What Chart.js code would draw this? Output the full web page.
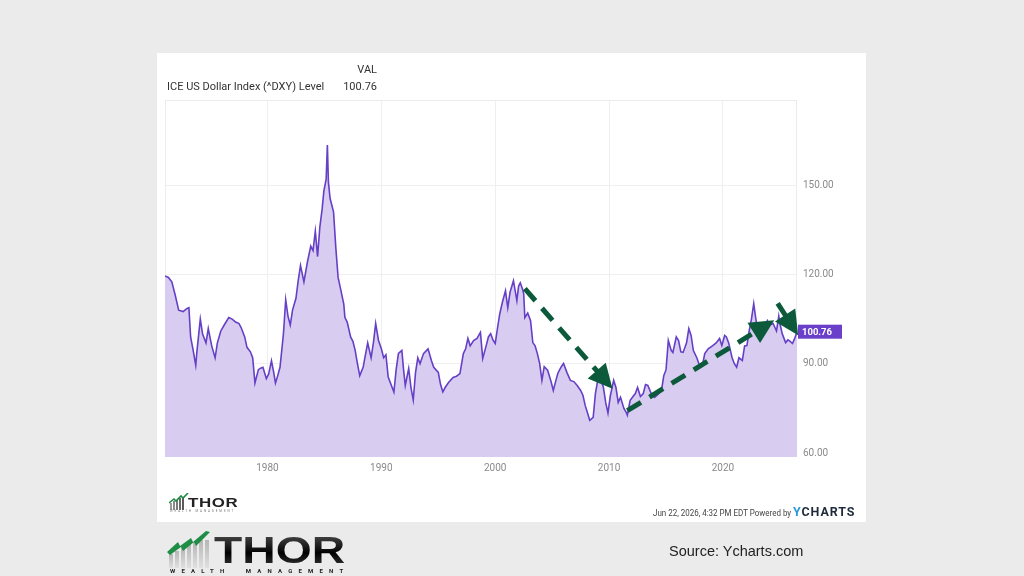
<!DOCTYPE html>
<html>
<head>
<meta charset="utf-8">
<script src="https://cdn.jsdelivr.net/npm/chart.js@4.4.1/dist/chart.umd.min.js"></script>
<style>
  html,body{margin:0;padding:0;}
  body{width:1024px;height:576px;background:#ebebeb;position:relative;overflow:hidden;font-family:Roboto,"Liberation Sans",sans-serif;}
  #panel{position:absolute;left:157px;top:53px;width:709px;height:469px;background:#fff;}
  #c{position:absolute;left:0;top:0;}
  .t{position:absolute;white-space:nowrap;color:#333;}
</style>
</head>
<body>
<div id="panel"></div>
<canvas id="c" width="1024" height="576"></canvas>

<div class="t" style="left:300px;top:63px;width:77px;text-align:right;font-size:11px;">VAL</div>
<div class="t" style="left:167px;top:80px;font-size:11px;">ICE US Dollar Index (^DXY) Level</div>
<div class="t" style="left:300px;top:80px;width:77px;text-align:right;font-size:11px;">100.76</div>

<!-- small footer logo -->
<svg style="position:absolute;left:169px;top:493px;" width="20" height="17" viewBox="0 0 20 17">
  <rect x="1" y="10" width="2" height="7" fill="#9a9a9a"/>
  <rect x="4" y="8" width="2" height="9" fill="#8a8a8a"/>
  <rect x="7" y="7" width="2" height="10" fill="#7a7a7a"/>
  <rect x="10" y="5" width="2" height="12" fill="#6a6a6a"/>
  <rect x="13" y="4" width="2" height="13" fill="#5a5a5a"/>
  <polyline points="0,10 5,6 7,8 12,3 14,5 19,0" fill="none" stroke="#1e8a45" stroke-width="1.6"/>
</svg>
<div class="t" style="left:188px;top:495px;font-size:13px;font-weight:900;color:#222;letter-spacing:0.5px;font-family:'Liberation Sans',sans-serif;transform:scaleX(1.3);transform-origin:left;">THOR</div>
<div class="t" style="left:170px;top:509px;font-size:3px;color:#777;letter-spacing:1.9px;">WEALTH MANAGEMENT</div>

<div class="t" style="left:653px;top:507px;font-size:9.5px;color:#444;transform:scaleX(0.84);transform-origin:left;">Jun 22, 2026, 4:32 PM EDT Powered by</div>
<div class="t" style="left:793px;top:504px;font-size:12.5px;font-weight:bold;color:#1f2b3d;letter-spacing:0.9px;"><span style="color:#2b9ad6;">Y</span>CHARTS</div>

<!-- big bottom logo -->
<svg style="position:absolute;left:166px;top:530px;" width="50" height="40" viewBox="0 0 50 40">
  <defs>
    <linearGradient id="g1" x1="0" y1="0" x2="0" y2="1">
      <stop offset="0" stop-color="#b5b5b5"/><stop offset="1" stop-color="#e0e0e0"/>
    </linearGradient>
  </defs>
  <rect x="3" y="24" width="4" height="14" fill="url(#g1)"/>
  <rect x="9" y="21" width="4" height="17" fill="url(#g1)"/>
  <rect x="15" y="18" width="4" height="20" fill="url(#g1)"/>
  <rect x="21" y="15" width="4" height="23" fill="url(#g1)"/>
  <rect x="27" y="12" width="4" height="26" fill="url(#g1)"/>
  <rect x="33" y="10" width="4" height="28" fill="url(#g1)"/>
  <rect x="39" y="10" width="4" height="28" fill="url(#g1)"/>
  <polygon points="1,22 12,12 14,16 25,8 27,12 40,1 44,2 30,16 28,12 17,21 15,17 4,25" fill="#1f8d46"/>
</svg>
<div class="t" style="left:214px;top:531px;font-size:37px;font-weight:900;font-family:'Liberation Sans',sans-serif;transform:scaleX(1.25);transform-origin:left;background:linear-gradient(#555,#111 45%,#000 55%,#444);-webkit-background-clip:text;background-clip:text;color:transparent;line-height:40px;">THOR</div>
<div class="t" style="left:170px;top:567px;font-size:6px;color:#222;letter-spacing:6.2px;font-weight:bold;">WEALTH&nbsp;&nbsp;MANAGEMENT</div>

<div class="t" style="left:669px;top:543px;font-size:14.5px;color:#222;font-family:'Liberation Sans',Arial,sans-serif;">Source: Ycharts.com</div>

<script>
// ---- data ----
const dates = [
1971.0,1971.3,1971.6,1971.9,1972.2,1972.6,1972.9,1973.1,1973.25,1973.45,1973.7,1973.8,
1974.1,1974.3,1974.6,1974.8,1975.1,1975.4,1975.6,1975.9,1976.2,1976.6,1976.9,1977.2,
1977.5,1977.7,1978.0,1978.2,1978.5,1978.7,1978.9,1979.2,1979.4,1979.6,1979.9,1980.1,
1980.35,1980.55,1980.7,1980.9,1981.1,1981.4,1981.6,1981.8,1982.0,1982.2,1982.5,1982.7,
1982.9,1983.2,1983.5,1983.8,1984.0,1984.2,1984.4,1984.6,1984.8,1984.95,1985.15,1985.26,
1985.35,1985.5,1985.8,1986.0,1986.2,1986.4,1986.7,1986.8,1987.0,1987.3,1987.5,1987.7,
1987.9,1988.1,1988.4,1988.6,1988.8,1989.1,1989.3,1989.5,1989.75,1990.0,1990.2,1990.4,
1990.6,1990.85,1991.1,1991.3,1991.5,1991.8,1991.95,1992.1,1992.4,1992.6,1992.8,1993.0,
1993.2,1993.4,1993.7,1994.1,1994.4,1994.6,1995.0,1995.2,1995.4,1995.6,1995.9,1996.3,
1996.6,1996.9,1997.2,1997.4,1997.6,1997.8,1998.1,1998.4,1998.7,1998.9,1999.2,1999.4,
1999.6,1999.8,2000.0,2000.2,2000.4,2000.65,2000.9,2001.1,2001.3,2001.6,2001.9,2002.05,
2002.2,2002.4,2002.5,2002.6,2002.85,2003.1,2003.3,2003.5,2003.7,2003.9,2004.1,2004.3,
2004.6,2004.9,2005.1,2005.3,2005.5,2005.8,2006.0,2006.3,2006.6,2006.9,2007.2,2007.5,
2007.7,2007.9,2008.1,2008.3,2008.6,2008.8,2009.0,2009.2,2009.5,2009.7,2009.9,2010.1,
2010.4,2010.6,2010.8,2011.0,2011.3,2011.5,2011.6,2011.85,2012.1,2012.3,2012.5,2012.75,
2013.0,2013.2,2013.4,2013.7,2014.0,2014.3,2014.6,2014.8,2015.0,2015.2,2015.45,2015.6,
2015.9,2016.1,2016.3,2016.5,2016.8,2017.0,2017.2,2017.4,2017.7,2018.0,2018.2,2018.4,
2018.7,2019.1,2019.4,2019.7,2019.9,2020.15,2020.3,2020.5,2020.8,2021.0,2021.2,2021.4,
2021.7,2021.9,2022.1,2022.3,2022.5,2022.7,2022.85,2023.0,2023.2,2023.4,2023.6,2023.9,
2024.1,2024.4,2024.7,2024.9,2025.0,2025.2,2025.5,2025.7,2025.9,2026.1,2026.3,2026.5
];
const values = [
119.5,119,117.5,113,108,107.5,108.5,108.8,99,95,89.5,94,
105,100,97,101.8,96,92,97,101,103,105.5,105,104,
103.5,102,99,95.5,94,92,83.5,88,88.5,88.8,85,86.5,
91,87,83.5,86,88.8,100,111.5,106,103,108,112,118,
123,117.5,124,129.5,128,134.5,126,136,142,148,152,163.5,
151,145.5,141,129,119,115.5,110,105.5,104,99,97.5,94.5,
90,86,88.8,93,97,92,97,103.5,97.8,95,92,93,
85.5,83,80.5,88,93.5,94.5,88,82.7,88.4,82,77.8,87,
92,90,93.4,95,91,88.8,87.1,83,80.5,82,83.7,85.4,
85.8,86.7,93.4,95,98.5,96,97.8,98.5,100.5,91.8,96,99,
100.1,98,96.8,102,106.8,111,114.5,108.8,114,117.9,111.2,116,
117.2,115,113.5,105.5,107,104.5,97.1,96,93.4,90.1,84.4,89,
87.8,84,81,84,86.8,89,90.1,87,84.4,84,82.7,81,
79.4,76,73.5,71,72,80,84.4,86,82,77,73.4,79,
84.4,82,77,78.7,75,73.7,72.7,77.7,79,80,82,79,
80,83,82.7,80,78.7,79.8,81,86,88,97.8,94.5,93.8,
99,97.8,94,93.8,97,101.8,99.5,94.4,92,88.8,89.5,93.4,
95,96.1,97,98.5,96.1,99.5,99,97,92,90,88.8,92,
91.1,96,96.1,101,105,110.2,106,102.1,102.5,101.1,102,104.5,
103,103.5,101,106,103.5,100.1,97.1,98,97.5,96.8,98.5,100.76
];
const xTickYears = [1980,1990,2000,2010,2020];
const yTickValues = [60,90,120,150];
const lastLabel = "100.76";
// annotation arrows in data space: [startYear, startValue, tipYear, tipValue]
const arrows = [
  [2002.6, 115.2, 2010.3, 81.6],
  [2011.6, 74.2, 2024.5, 104.6],
  [2024.8, 110.3, 2026.6, 99.6]
];

const arrowPlugin = {
  id:'arrows',
  afterDatasetsDraw(chart){
    const {ctx, scales:{x,y}, chartArea} = chart;
    ctx.save();
    const col = '#0c5a3b';
    arrows.forEach(a=>{
      const x0=x.getPixelForValue(a[0]), y0=y.getPixelForValue(a[1]);
      const x1=x.getPixelForValue(a[2]), y1=y.getPixelForValue(a[3]);
      const dx=x1-x0, dy=y1-y0, L=Math.hypot(dx,dy), ux=dx/L, uy=dy/L;
      const head=24, hw=12;
      const bx=x1-ux*head, by=y1-uy*head;
      ctx.strokeStyle=col; ctx.lineWidth=5; ctx.setLineDash([16,10]); ctx.lineCap='butt';
      ctx.beginPath(); ctx.moveTo(x0,y0); ctx.lineTo(bx+ux*4,by+uy*4); ctx.stroke();
      ctx.setLineDash([]);
      ctx.fillStyle=col;
      ctx.beginPath();
      ctx.moveTo(x1,y1);
      ctx.lineTo(bx-uy*hw,by+ux*hw);
      ctx.lineTo(bx+uy*hw,by-ux*hw);
      ctx.closePath(); ctx.fill();
    });
    const ly=y.getPixelForValue(values[values.length-1]);
    const bx0=chartArea.right+1;
    ctx.fillStyle='#6a3fc9';
    ctx.fillRect(bx0, ly-7, 44, 14);
    ctx.fillStyle='#fff';
    ctx.font='bold 9.5px Roboto, sans-serif';
    ctx.textBaseline='middle'; ctx.textAlign='left';
    ctx.fillText(lastLabel, bx0+4, ly+0.5);
    ctx.restore();
  }
};

const borderPlugin = {
  id:'frame',
  beforeDatasetsDraw(chart){
    const {ctx, chartArea:a} = chart;
    ctx.save();
    ctx.strokeStyle='#ececec'; ctx.lineWidth=1;
    ctx.strokeRect(a.left+0.5, a.top+0.5, a.right-a.left-1, a.bottom-a.top-1);
    ctx.restore();
  }
};

new Chart(document.getElementById('c'), {
  type:'line',
  data:{
    datasets:[{
      data: dates.map((d,i)=>({x:d,y:values[i]})),
      borderColor:'#6540c6',
      backgroundColor:'rgb(216,205,241)',
      borderWidth:1.6,
      fill:'start',
      pointRadius:0,
      tension:0
    }]
  },
  options:{
    responsive:false,
    animation:false,
    devicePixelRatio:1,
    layout:{padding:{left:165, top:100, right:1024-797-60, bottom:576-457-20}},
    plugins:{legend:{display:false}, tooltip:{enabled:false}},
    scales:{
      x:{
        type:'linear', min:1971.0, max:2026.5,
        afterBuildTicks:s=>{s.ticks=xTickYears.map(v=>({value:v}));},
        afterFit:s=>{s.height=20;},
        grid:{color:'#efefef', drawTicks:false},
        border:{display:false},
        ticks:{color:'#8a8a8a', font:{family:'Roboto', size:10}, padding:5, maxRotation:0, callback:v=>String(v)}
      },
      y:{
        position:'right', min:58.66, max:178.6,
        afterBuildTicks:s=>{s.ticks=yTickValues.map(v=>({value:v}));},
        afterFit:s=>{s.width=60;},
        grid:{color:'#efefef', drawTicks:false},
        border:{display:false},
        ticks:{color:'#8a8a8a', font:{family:'Roboto', size:10}, padding:6, callback:v=>Number(v).toFixed(2)}
      }
    }
  },
  plugins:[borderPlugin, arrowPlugin]
});
</script>
</body>
</html>
